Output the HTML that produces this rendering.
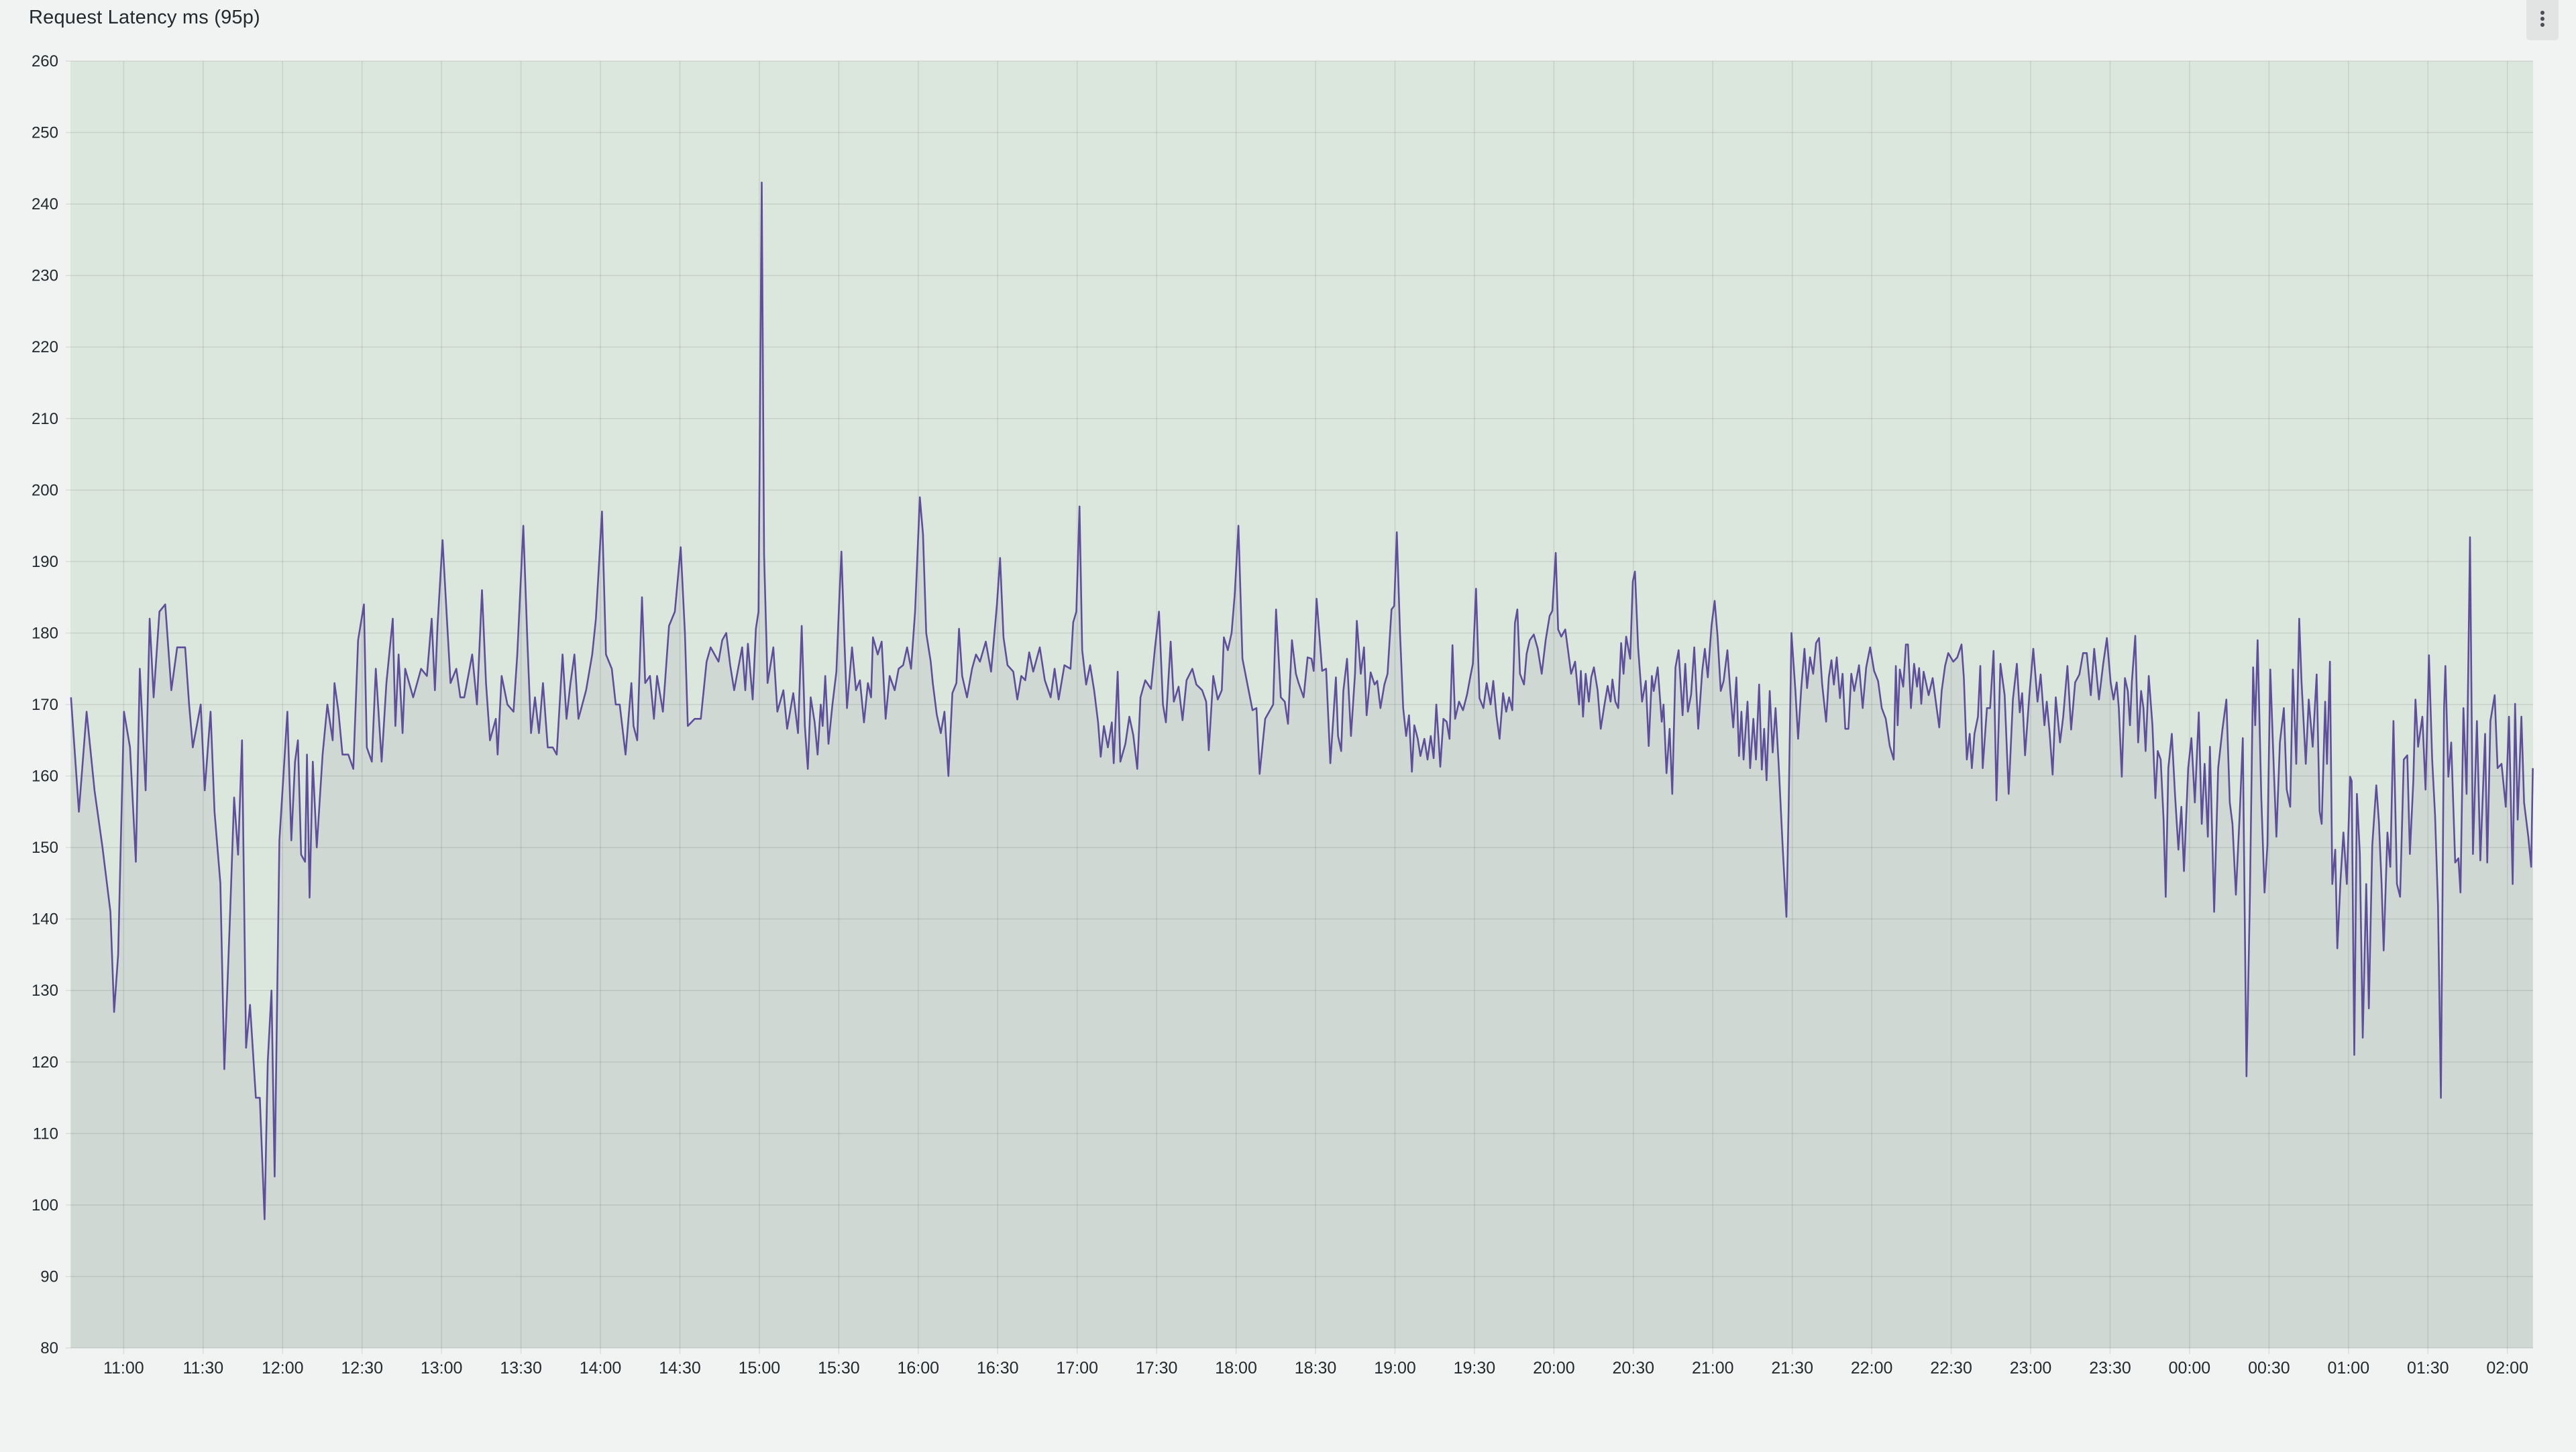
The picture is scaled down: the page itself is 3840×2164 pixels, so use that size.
<!DOCTYPE html>
<html><head><meta charset="utf-8"><title>Request Latency ms (95p)</title>
<style>
html,body{margin:0;padding:0;background:#f1f3f2;}
body{width:3840px;height:2164px;overflow:hidden;position:relative;font-family:"Liberation Sans",sans-serif;color:#24292e;}
#title{position:absolute;left:43px;top:10px;font-size:29px;font-weight:500;letter-spacing:0.2px;}
#menu{position:absolute;left:3766px;top:0;width:48px;height:60px;background:#e2e3e3;border-radius:0 0 5px 5px;}
.dot{position:absolute;left:21px;width:6px;height:6px;border-radius:3px;background:#4a4d52;}
svg{position:absolute;left:0;top:0;}
</style></head><body>
<div id="title">Request Latency ms (95p)</div>
<div id="menu">
<div class="dot" style="top:16px"></div>
<div class="dot" style="top:25px"></div>
<div class="dot" style="top:34px"></div>
</div>
<svg id="chart" width="3840" height="2164"></svg>
<script>
// minutes relative to 11:00
const times = [
-19.9,-16.9,-14,-11,-8,-5,-3.6,-2.1,0.1,2.4,4.6,6.1,8.3,9.8,11.3,13.5,15.7,18,20.2,23.2,24.7,26.1,29.1,30.6,32.8,34.3,36.5,38,40.2,41.7,43.2,44.7,46.2,47.7,49.9,51.4,53.2,54.4,55.8,57,58.8,61.8,63.3,64.7,65.8,67,68.5,69.2,70.2,71.4,72.9,75.1,76.9,78.9,79.6,81.1,82.6,84.8,86.7,88.5,90.7,91.8,93.7,95.2,97.4,99.2,101.6,102.6,103.8,105.3,106.3,109.3,112.3,114.5,116.3,117.5,118.5,120.4,121.9,123.4,125.6,127.1,128.6,131.6,133.4,135.3,136.8,138.3,140.5,141.2,142.7,144.9,147.2,148.6,150.9,152.4,153.8,155.3,156.8,158.3,160.1,162,163.5,165.7,167.2,168.7,170.2,171.7,174.6,176.9,178.3,180.6,182.1,184.3,185.8,187.3,189.5,191.7,192.5,193.9,195.7,196.9,198.7,200.2,201.4,203.6,205.9,208.1,210.3,
211.9,213.0,215.6,217.9,220.1,221.6,224.6,226.0,227.5,229.0,230.5,232.0,233.5,234.7,235.7,237.5,238.7,239.7,240.9,241.8,243.1,245.3,246.8,249.1,250.5,252.8,254.6,256.0,257.2,258.3,259.4,260.9,262.0,263.2,263.9,264.9,266.1,267.6,269.1,270.1,271.0,272.1,273.1,275.0,276.5,278.0,279.5,281.0,282.2,282.9,284.7,286.2,287.7,289.2,291.1,292.6,294.3,295.8,297.3,298.8,300.6,301.8,303.0,304.7,305.5,307.0,308.5,309.9,311.4,312.9,314.4,315.4,316.6,318.4,320.3,321.8,323.3,325.5,327.5,328.5,329.7,330.9,332.2,333.7,335.9,337.4,338.9,340.4,341.9,343.4,345.9,347.8,350.0,351.5,353.0,355.2,357.5,358.5,359.7,360.9,361.9,363.4,364.9,366.4,367.9,368.9,370.1,371.6,373.1,373.8,375.3,376.3,378.2,379.7,381.2,382.7,383.9,385.7,387.9,389.4,390.9,392.4,393.5,395.3,396.5,398.3,399.8,401.3,403.5,405.0,407.2,408.7,409.7,411.4,413.1,414.6,415.4,416.9,418.3,419.5,420.9,422.4,424.3,426.2,427.7,428.9,431.0,432.5,434.0,435.1,436.9,438.4,
439.6,441.1,442.6,443.6,445.5,447.0,448.5,449.3,450.4,451.5,452.5,454.0,455.6,456.7,457.7,458.5,459.7,460.5,461.9,463.4,464.9,465.6,467.1,468.3,469.3,470.8,472.3,473.3,474.5,476.0,477.2,478.7,479.7,480.7,481.9,483.1,484.2,485.3,486.4,487.3,488.6,489.6,491.1,492.3,493.5,494.6,495.6,497.1,498.3,499.5,500.6,501.7,502.7,504.2,505.7,507.2,508.4,509.4,510.6,511.9,513.4,514.6,516.1,517.1,518.3,519.5,520.8,522.0,523.1,524.3,525.3,526.2,527.2,528.7,529.7,530.9,532.4,533.9,535.4,536.9,538.4,539.4,540.7,541.6,542.8,544.3,545.5,546.5,548.0,549.5,550.2,551.0,552.0,553.2,554.1,555.1,556.5,557.7,559.1,560.3,561.4,562.1,563.2,564.3,565.4,566.3,567.3,568.8,569.8,570.6,571.8,573.3,574.7,575.8,577.0,577.7,579.2,580.7,581.4,582.5,583.7,584.7,585.9,587.1,588.6,589.6,590.6,591.8,593.0,594.5,596.0,597.0,598.1,599.5,600.7,601.8,603.0,604.1,605.5,606.7,607.7,608.9,609.9,610.8,611.6,613.1,614.1,615.3,616.3,617.5,618.5,619.4,620.3,621.5,622.6,623.7,624.9,626.4,627.8,628.6,629.7,631.2,632.2,633.4,634.6,635.6,636.7,637.9,639.0,640.1,641.3,642.8,643.8,644.8,645.7,646.8,648.0,649.0,650.0,651.2,652.3,653.4,655.2,656.6,657.9,659.4,660.9,662.4,663.8,665.3,666.8,
668.3,669.1,669.8,670.6,671.9,672.9,673.7,674.8,676.0,677.1,677.9,678.7,679.6,681.5,683.0,684.3,685.5,686.4,687.7,688.9,690.8,692.3,693.9,694.8,695.9,697.0,697.8,698.8,700.1,701.0,701.9,703.5,704.7,706.0,707.1,708.6,710.2,711.7,713.3,714.8,715.9,716.8,717.9,719.5,721.0,722.6,723.8,725.2,726.1,727.2,728.3,729.5,731.1,732.3,733.9,735.3,736.8,738.4,739.8,741.2,742.7,744.0,745.8,747.4,748.8,750.2,751.3,752.5,753.3,754.4,755.6,756.7,757.5,758.2,759.5,760.6,761.7,762.6,763.4,764.6,766.0,767.1,768.0,769.1,770.2,771.0,772.0,773.3,774.5,775.8,776.9,777.9,779.5,780.7,782.0,783.5,784.6,785.7,786.9,787.7,789.3,790.8,792.4,793.9,795.2,796.2,797.5,799.0,800.1,801.5,802.8,804.0,804.8,805.7,807.1,808.3,809.4,810.5,811.8,812.8,814.1,815.6,816.7,818.0,819.0,820.3,821.4,822.3,823.9,825.0,826.5,828.0,829.1,829.9,831.2,831.9,833.0,833.9,835.0,835.8,837.0,838.1,839.4,840.6,841.2,842.2,843.2,844.3,845.4,846.7,847.7,849.0,850.5,851.5,852.5,853.3,854.7,855.8,857.0,858.3,859.5,860.9,862.2,863.2,864.5,865.3,866.3,867.9,869.1,870.4,871.6,872.7,873.8,874.9,876.1,876.6,877.7,878.8,880.3,881.5,882.3,883.4,884.6,885.9,887.0,888.5,889.8,891.6,892.4,893.6,895.2,896.3,897.8,899.4,900.6,902.0,902.9,903.9,905.3,906.3,907.9,909.0,909.6
];
const latency = [
171,155,169,158,150,141,127,135,169,164,148,175,158,182,171,183,184,172,178,178,170,164,170,158,169,155,145,119,141,157,149,165,122,128,115,115,98,120,130,104,151,169,151,162,165,149,148,163,143,162,150,163,170,165,173,169,163,163,161,179,184,164,162,175,162,173,182,167,177,166,175,171,175,174,182,172,181,193,183,173,175,171,171,177,170,186,173,165,168,163,174,170,169,177,195,179,166,171,166,173,164,164,163,177,168,173,177,168,172,177,182,197,177,175,170,170,163,173,167,165,185,173,174,168,174,169,181,183,192,
180,167,168,168,176,178,176,179,180,175.5,172,175,178,172,178.5,170.7,180.6,183,243,191,173,178,169,172,166.6,171.6,166,181,167,161,171,167.5,163,170,167,174,164.5,170,174.6,184,191.4,179,169.5,178,172,173.4,167.5,173,171,179.4,177,178.8,168,174,172,175,175.5,178,175,183,199,193.8,180,176,173,168.6,166,169,160,171.6,173,180.6,174,171,175,177,176,178.8,174.6,178.8,184,190.5,179.4,175.5,174.6,170.7,174,173.4,177.3,174.6,178,173.4,171,175,170.7,175.5,175,181.5,183,197.7,177.6,172.8,175.5,172,167.5,162.7,167,164,167.5,161.8,174.6,162,164.5,168.3,165.7,161,171,173.4,172.2,178,183,170,167.5,178.8,170.4,172.5,167.8,173.4,175,172.8,172,170.4,163.6,174,170.7,172,179.4,177.6,180,185.4,195,176.4,172.8,169.2,169.5,160.3,168,169,170,183.3,171,170.4,
167.3,179,174.3,173,171,176.6,176.4,174.7,184.8,179.5,174.7,175,161.8,168,173.8,165.6,163.5,171.9,176.4,165.6,174.3,181.7,174.3,178,168.5,174.5,172.8,173.3,169.5,172.8,174.3,183.3,183.8,194.1,180,169.5,165.6,168.5,160.6,167.1,165.2,162.8,165.2,162.3,165.6,162.5,170,161.3,168,167.6,165.2,178.3,168,170.4,169.2,171.4,173.8,175.7,186.2,170.9,169.5,173,170,173.3,168.5,165.2,171.6,169,171,169.2,181.4,183.3,174.3,172.8,177.1,179,179.8,177.8,174.3,179,182.4,183.1,191.2,180.5,179.5,180.5,177.1,174.3,176,170,174.7,168.3,174.3,170.4,173.8,175.2,172,166.6,170,172.6,170.4,173.5,170.4,169.5,178.6,174.3,179.5,176.4,187.2,188.6,178,170.4,173.3,164.2,174,171.9,175.2,167.6,170,160.4,166.6,157.5,175.2,177.6,168.5,175.7,169,171.4,178,166.6,174.7,177.8,173.8,181,184.5,179.5,171.9,173.3,177.6,171.4,166.8,173.8,162.8,169,162.3,170.4,161.1,168,162.3,172.8,160.9,166.6,159.4,171.9,163.3,169.5,161.3,149.9,140.3,155.1,180,171.9,165.2,172.3,177.8,172.3,176.6,174.3,178.6,179.3,172.8,167.6,173.8,176.2,172.8,176.6,170.9,174.3,166.6,166.6,174.3,171.9,175.5,169.5,175.2,178,174.7,173.3,169.5,168,164.2,
162.3,175.4,167.1,174.9,172.5,178.4,178.4,169.5,175.7,172.5,175.1,170.1,174.6,171.3,173.7,170.1,166.8,171.9,175.4,177.2,176,176.6,178.4,173.7,162.3,165.9,161.1,165.9,168.3,175.4,161.1,169.5,169.5,177.5,156.6,175.7,171.3,157.5,170.7,175.7,168.9,171.6,162.9,171.3,177.8,170.4,174.2,167.1,170.4,165.9,160.2,171,164.7,168.3,175.4,166.5,173.1,174.2,177.2,177.2,171.3,177.8,170.7,175.7,179.3,173.1,170.7,173.1,169.5,159.9,173.7,171.9,167.1,173.1,179.6,164.7,171.9,169.5,163.5,174,167.1,156.9,163.5,162.3,153.9,143.1,161.1,165.9,157.5,149.7,155.7,146.7,161.1,165.3,156.3,168.9,153.3,161.7,151.5,164.1,141,161.1,166.5,170.7,156.3,153.3,143.4,155.1,165.3,118,143.1,175.2,167.1,179,156.9,143.7,150.3,174.9,161.1,151.5,164.7,169.5,158.1,155.7,174.9,161.7,182,173.1,161.7,170.7,164.1,174.2,155.1,153.3,170.4,161.7,176,144.9,149.7,135.9,145.5,152.1,144.9,159.9,159.3,121,157.5,149.1,123.4,144.9,127.5,150.3,158.7,153.6,144.9,135.6,152.1,147.3,167.7,144.9,143.1,162.3,162.9,149.1,159.3,170.7,164.1,168.3,158.1,176.9,162.3,154.5,141.9,115,169.5,175.4,159.9,164.7,147.9,148.5,143.7,169.5,157.5,193.4,149.1,167.7,148.2,165.9,147.9,167.7,171.3,161.1,161.7,155.7,168.3,144.9,170.1,153.9,168.3,156.3,151.5,147.3,161.1
];
const yTicks = [80,90,100,110,120,130,140,150,160,170,180,190,200,210,220,230,240,250,260];
const xTickLabels = ["11:00","11:30","12:00","12:30","13:00","13:30","14:00","14:30","15:00","15:30","16:00","16:30","17:00","17:30","18:00","18:30","19:00","19:30","20:00","20:30","21:00","21:30","22:00","22:30","23:00","23:30","00:00","00:30","01:00","01:30","02:00"];
const xTickMinutes = [0,30,60,90,120,150,180,210,240,270,300,330,360,390,420,450,480,510,540,570,600,630,660,690,720,750,780,810,840,870,900];

const L=105,R=3776,T=91,B=2009;
const tMin=-20.1,tMax=909.7,vMin=80,vMax=260;
function xs(t){return L+(t-tMin)/(tMax-tMin)*(R-L);}
function ys(v){return B-(v-vMin)/(vMax-vMin)*(B-T);}
const NS='http://www.w3.org/2000/svg';
const svg=document.getElementById('chart');
function mk(tag,attrs,parent){const e=document.createElementNS(NS,tag);for(const k in attrs)e.setAttribute(k,attrs[k]);(parent||svg).appendChild(e);return e;}

const bg=mk('rect',{x:L,y:T,width:R-L,height:B-T,fill:'#dbe6dc'});



// area fill
let d='M'+xs(times[0]).toFixed(1)+','+B;
for(let i=0;i<times.length;i++){d+='L'+xs(times[i]).toFixed(1)+','+ys(latency[i]).toFixed(1);}
d+='L'+xs(times[times.length-1]).toFixed(1)+','+B+'Z';
const area=mk('path',{d:d,fill:'#cfd8d3'});



// grid
const grid=mk('g',{stroke:'#000','stroke-opacity':'0.09','stroke-width':'1.5'});


yTicks.forEach(v=>{
  const y=ys(v);
  const gl=mk('line',{x1:L-7,x2:R,y1:y,y2:y},grid);
  
  
  const t=mk('text',{x:87,y:y+8,'text-anchor':'end','font-size':'24','fill':'#24292e','font-family':'Liberation Sans, sans-serif'});
  t.textContent=v;
  
  
});
xTickMinutes.forEach((m,i)=>{
  const x=xs(m);
  const gl=mk('line',{x1:x,x2:x,y1:T,y2:B+9},grid);
  
  
  const t=mk('text',{x:x,y:2047,'text-anchor':'middle','font-size':'25','fill':'#24292e','font-family':'Liberation Sans, sans-serif'});
  t.textContent=xTickLabels[i];
  
  
});

// line
let ld='';
for(let i=0;i<times.length;i++){ld+=(i?'L':'M')+xs(times[i]).toFixed(1)+','+ys(latency[i]).toFixed(1);}
const line=mk('path',{d:ld,fill:'none',stroke:'#5e4f9b','stroke-width':'2.6','stroke-linejoin':'round'});


</script>
</body></html>
